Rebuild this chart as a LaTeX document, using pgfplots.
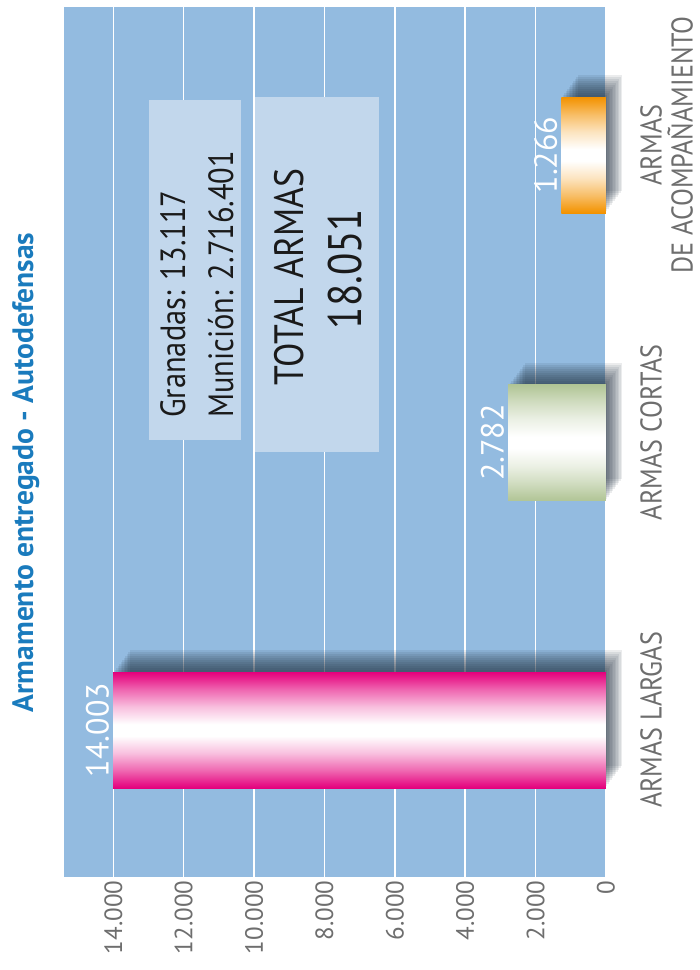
\documentclass[border=0pt]{standalone}
\usepackage{fontspec}
\setmainfont{PT Sans}
\newfontfamily\cond[FakeStretch=0.87]{PT Sans}
\usepackage{pgfplots}
\pgfplotsset{compat=1.18}

\definecolor{plotblue}{HTML}{93BBE0}
\definecolor{boxblue}{HTML}{C2D7EC}
\definecolor{titleblue}{HTML}{1A7BBD}
\definecolor{tickgray}{HTML}{6E6E6E}
\definecolor{boxtext}{HTML}{1A1A1A}
\definecolor{barpink}{HTML}{E4007C}
\definecolor{bargreen}{HTML}{B1C596}
\definecolor{barorange}{HTML}{F39200}
\definecolor{shadowc}{HTML}{1E2C3C}

% edge colour -> white in the middle, across the bar thickness
\newcommand\barshading[2]{%
  \pgfdeclareverticalshading{#1}{100bp}{color(0bp)=(#2); color(25bp)=(#2);
    color(27bp)=(#2!90!white); color(32.5bp)=(#2!60!white);
    color(40bp)=(#2!25!white); color(47.5bp)=(white); color(52.5bp)=(white);
    color(60bp)=(#2!25!white); color(67.5bp)=(#2!60!white);
    color(73bp)=(#2!90!white); color(75bp)=(#2); color(100bp)=(#2)}}
\barshading{pinkbar}{barpink}
\barshading{greenbar}{bargreen}
\barshading{orangebar}{barorange}

% soft shadow up and to the right: many faint shifted copies of the bar,
% then the shaded bar itself on top
\tikzset{
  sc/.style 2 args={preaction={fill=shadowc, fill opacity=0.09,
    transform canvas={shift={(#1,#2)}}}},
  shadedbar/.style={draw=none,
    sc={1.5pt}{2pt}, sc={3pt}{4pt}, sc={4.5pt}{6pt}, sc={6pt}{8pt},
    sc={7.5pt}{10pt}, sc={9pt}{12pt}, sc={10.5pt}{14pt}, sc={12pt}{16pt},
    sc={13.5pt}{18pt}, sc={15pt}{20pt}, sc={16.5pt}{22pt},
    postaction={shading=#1}}
}

\begin{document}
\begin{tikzpicture}
\path[use as bounding box] (0,0) rectangle (700pt,970pt);

\node[rotate=90, anchor=base, inner sep=0pt, text=titleblue,
      font=\bfseries\fontsize{29.5}{31}\selectfont] at (33pt,497.5pt)
      {Armamento entregado - Autodefensas};

\begin{axis}[
  at={(64pt,93pt)}, anchor=south west,
  scale only axis, width=542pt, height=870pt,
  xbar, bar width=116pt, bar shift=0pt,
  x dir=reverse,
  xmin=0, xmax=15400, ymin=-0.511, ymax=2.515,
  axis background/.style={fill=plotblue},
  axis line style={draw=none},
  major tick length=0pt,
  xmajorgrids, grid style={white, line width=1.5pt},
  xtick={0,2000,...,14000},
  scaled x ticks=false,
  xticklabel={\pgfmathprintnumber[fixed,precision=0,1000 sep={.},assume math mode=true]{\tick}},
  xticklabel style={rotate=90, anchor=east, font=\fontsize{25}{30}\selectfont, text=tickgray},
  ytick={0.035,1.035,2.035},
  yticklabels={ARMAS LARGAS,ARMAS CORTAS,{ARMAS\\DE ACOMPAÑAMIENTO}},
  yticklabel pos=right,
  yticklabel shift=34pt,
  yticklabel style={rotate=90, anchor=north, align=center, inner sep=0pt,
    font=\cond\fontsize{30}{31}\selectfont, text=tickgray},
  clip=false,
  point meta=x,
  nodes near coords={\pgfmathprintnumber[fixed,precision=0,1000 sep={.},assume math mode=true]{\pgfplotspointmeta}},
  every node near coord/.append style={rotate=90, anchor=south, text=white,
    font=\fontsize{32}{36}\selectfont, inner sep=4pt},
]
\addplot[shadedbar=pinkbar] coordinates {(14003,0)};
\addplot[shadedbar=greenbar] coordinates {(2782,1)};
\addplot[shadedbar=orangebar] coordinates {(1266,2)};
\end{axis}

\fill[boxblue] (149pt,530pt) rectangle (241pt,870pt);
\fill[boxblue] (255pt,518pt) rectangle (379pt,873pt);
\node[rotate=90, anchor=base west, inner sep=0pt, text=boxtext,
      font=\cond\fontsize{35}{40}\selectfont] at (185pt,552pt) {Granadas: 13.117};
\node[rotate=90, anchor=base west, inner sep=0pt, text=boxtext,
      font=\cond\fontsize{35}{40}\selectfont] at (233pt,552pt) {Munición: 2.716.401};
\node[rotate=90, anchor=base, inner sep=0pt, text=boxtext,
      font=\cond\fontsize{41}{46}\selectfont] at (303pt,693pt) {TOTAL ARMAS};
\node[rotate=90, anchor=base, inner sep=0pt, text=boxtext,
      font=\cond\fontsize{47}{50}\selectfont] at (361pt,701pt) {18.051};
\end{tikzpicture}
\end{document}
